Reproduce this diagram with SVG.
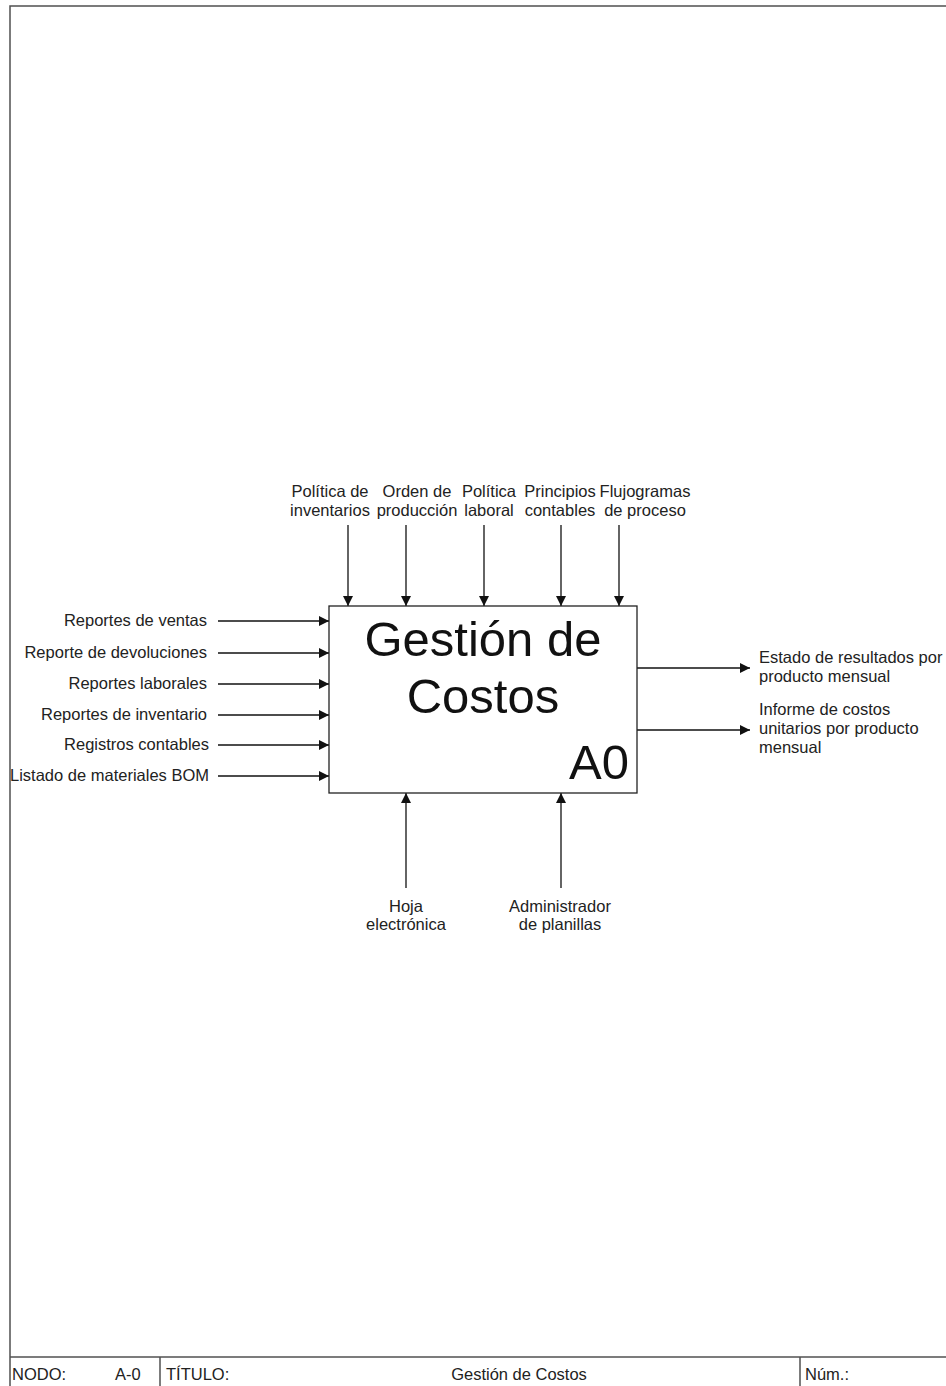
<svg xmlns="http://www.w3.org/2000/svg" width="946" height="1386" viewBox="0 0 946 1386">
  <style>
    .frame { fill: none; stroke: #505050; stroke-width: 1.5; }
    .lbl { font-family: "Liberation Sans", Arial, sans-serif; font-size: 16.5px; fill: #222; }
    .big { font-family: "Liberation Sans", Arial, sans-serif; fill: #111; }
    .arrow { stroke: #111; stroke-width: 1.3; fill: none; marker-end: url(#head); }
    .box { fill: #fff; stroke: #222; stroke-width: 1.3; }
  </style>
  <defs>
    <marker id="head" viewBox="0 0 10 10" refX="10" refY="5" markerWidth="10" markerHeight="10" markerUnits="userSpaceOnUse" orient="auto">
      <path d="M0,0 L10,5 L0,10 z" fill="#111"/>
    </marker>
  </defs>

  <rect width="946" height="1386" fill="#fff"/>

  <!-- page frame and title block -->
  <g id="frame">
    <path class="frame" d="M10,1386 V6 H946"/>
    <line class="frame" x1="10" y1="1357" x2="946" y2="1357"/>
    <line class="frame" x1="160" y1="1357" x2="160" y2="1386"/>
    <line class="frame" x1="800" y1="1357" x2="800" y2="1386"/>
    <text class="lbl" x="12" y="1380">NODO:</text>
    <text class="lbl" x="115" y="1380">A-0</text>
    <text class="lbl" x="166" y="1380">TÍTULO:</text>
    <text class="lbl" x="519" y="1380" text-anchor="middle">Gestión de Costos</text>
    <text class="lbl" x="805" y="1380">Núm.:</text>
  </g>

  <!-- connectors -->
  <g id="connectors">
    <!-- controls -->
    <line class="arrow" x1="348" y1="525" x2="348" y2="606"/>
    <line class="arrow" x1="406" y1="525" x2="406" y2="606"/>
    <line class="arrow" x1="484" y1="525" x2="484" y2="606"/>
    <line class="arrow" x1="561" y1="525" x2="561" y2="606"/>
    <line class="arrow" x1="619" y1="525" x2="619" y2="606"/>
    <!-- inputs -->
    <line class="arrow" x1="218" y1="621" x2="329" y2="621"/>
    <line class="arrow" x1="218" y1="653" x2="329" y2="653"/>
    <line class="arrow" x1="218" y1="684" x2="329" y2="684"/>
    <line class="arrow" x1="218" y1="715" x2="329" y2="715"/>
    <line class="arrow" x1="218" y1="745" x2="329" y2="745"/>
    <line class="arrow" x1="218" y1="776" x2="329" y2="776"/>
    <!-- outputs -->
    <line class="arrow" x1="637" y1="668" x2="750" y2="668"/>
    <line class="arrow" x1="637" y1="730" x2="750" y2="730"/>
    <!-- mechanisms -->
    <line class="arrow" x1="406" y1="888" x2="406" y2="793"/>
    <line class="arrow" x1="561" y1="888" x2="561" y2="793"/>
  </g>

  <!-- activity box -->
  <g id="A0">
    <rect class="box" x="329" y="606" width="308" height="187"/>
    <text class="big" x="483" y="656" font-size="49" text-anchor="middle">Gestión de</text>
    <text class="big" x="483" y="713" font-size="49" text-anchor="middle">Costos</text>
    <text class="big" x="629" y="779" font-size="49" text-anchor="end">A0</text>
  </g>

  <!-- control labels -->
  <g id="ctl-inventarios">
    <text class="lbl" x="330" y="497" text-anchor="middle">Política de</text>
    <text class="lbl" x="330" y="516" text-anchor="middle">inventarios</text>
  </g>
  <g id="ctl-orden">
    <text class="lbl" x="417" y="497" text-anchor="middle">Orden de</text>
    <text class="lbl" x="417" y="516" text-anchor="middle">producción</text>
  </g>
  <g id="ctl-laboral">
    <text class="lbl" x="489" y="497" text-anchor="middle">Política</text>
    <text class="lbl" x="489" y="516" text-anchor="middle">laboral</text>
  </g>
  <g id="ctl-principios">
    <text class="lbl" x="560" y="497" text-anchor="middle">Principios</text>
    <text class="lbl" x="560" y="516" text-anchor="middle">contables</text>
  </g>
  <g id="ctl-flujogramas">
    <text class="lbl" x="645" y="497" text-anchor="middle">Flujogramas</text>
    <text class="lbl" x="645" y="516" text-anchor="middle">de proceso</text>
  </g>

  <!-- input labels -->
  <g id="in-ventas"><text class="lbl" x="207" y="626" text-anchor="end">Reportes de ventas</text></g>
  <g id="in-devoluciones"><text class="lbl" x="207" y="658" text-anchor="end">Reporte de devoluciones</text></g>
  <g id="in-laborales"><text class="lbl" x="207" y="689" text-anchor="end">Reportes laborales</text></g>
  <g id="in-inventario"><text class="lbl" x="207" y="720" text-anchor="end">Reportes de inventario</text></g>
  <g id="in-contables"><text class="lbl" x="209" y="750" text-anchor="end">Registros contables</text></g>
  <g id="in-bom"><text class="lbl" x="209" y="781" text-anchor="end">Listado de materiales BOM</text></g>

  <!-- output labels -->
  <g id="out-estado">
    <text class="lbl" x="759" y="663">Estado de resultados por</text>
    <text class="lbl" x="759" y="682">producto mensual</text>
  </g>
  <g id="out-informe">
    <text class="lbl" x="759" y="715">Informe de costos</text>
    <text class="lbl" x="759" y="734">unitarios por producto</text>
    <text class="lbl" x="759" y="753">mensual</text>
  </g>

  <!-- mechanism labels -->
  <g id="mec-hoja">
    <text class="lbl" x="406" y="912" text-anchor="middle">Hoja</text>
    <text class="lbl" x="406" y="930" text-anchor="middle">electrónica</text>
  </g>
  <g id="mec-admin">
    <text class="lbl" x="560" y="912" text-anchor="middle">Administrador</text>
    <text class="lbl" x="560" y="930" text-anchor="middle">de planillas</text>
  </g>
</svg>
